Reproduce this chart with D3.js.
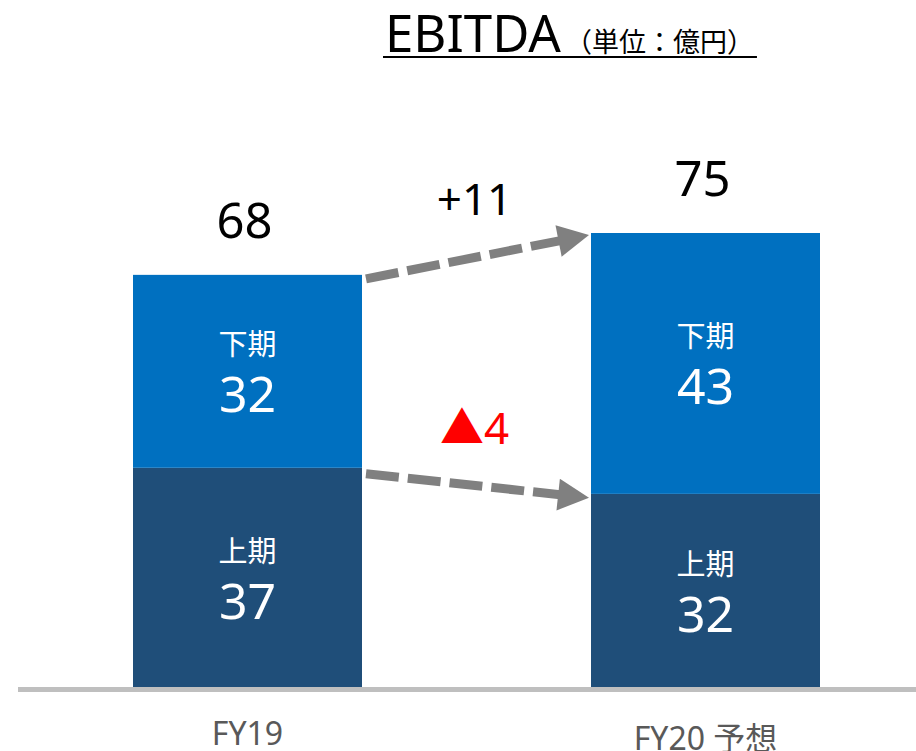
<!DOCTYPE html>
<html>
<head>
<meta charset="utf-8">
<script src="https://cdn.jsdelivr.net/npm/d3@7"></script>
<style>
  body { margin: 0; background: #fff; }
  svg { display: block; font-family: 'Noto Sans', 'Noto Sans CJK JP', sans-serif; }
</style>
</head>
<body>
<div id="chart"></div>
<script>
// data
const categories = ['FY19', 'FY20 予想'];
const firstHalf = [36.3, 32.0];   // 上期
const secondHalf = [31.8, 43.0];  // 下期
const segmentNames = ['上期', '下期'];
const firstHalfLabels = ['37', '32'];
const secondHalfLabels = ['32', '43'];
const totalLabels = ['68', '75'];
const deltaLabels = ['+11', '▲4'];  // top arrow, bottom arrow

const outerWidth = 916;
const outerHeight = 751;
const baseY = 688;

const svg = d3.select('#chart')
  .append('svg')
  .attr('width', outerWidth)
  .attr('height', outerHeight);

// Scales
const x = d3.scaleBand()
  .domain(categories)
  .range([133, 820])
  .paddingInner(0.5)
  .paddingOuter(0);

const y = d3.scaleLinear()
  .domain([0, 75])
  .range([baseY, 233]);

const rows = categories.map((c, i) => ({
  cat: c,
  lo: firstHalf[i],
  hi: secondHalf[i],
  total: firstHalf[i] + secondHalf[i],
  loLabel: firstHalfLabels[i],
  hiLabel: secondHalfLabels[i],
  totalLabel: totalLabels[i]
}));

// Bars
const bars = svg.append('g');
bars.selectAll('rect.lo')
  .data(rows)
  .join('rect')
  .attr('class', 'lo')
  .attr('x', d => x(d.cat))
  .attr('width', x.bandwidth())
  .attr('y', d => y(d.lo))
  .attr('height', d => y(0) - y(d.lo))
  .attr('fill', '#1f4e79');

bars.selectAll('rect.hi')
  .data(rows)
  .join('rect')
  .attr('class', 'hi')
  .attr('x', d => x(d.cat))
  .attr('width', x.bandwidth())
  .attr('y', d => y(d.total))
  .attr('height', d => y(d.lo) - y(d.total))
  .attr('fill', '#0070c0');

// segment labels (name + value, centred in the segment)
const segLabel = (sel, mid, name, val) => {
  sel.append('text')
    .attr('x', d => x(d.cat) + x.bandwidth() / 2)
    .attr('y', d => mid(d) - 16)
    .attr('text-anchor', 'middle')
    .attr('fill', '#fff')
    .style('font-family', "'Noto Sans CJK JP', sans-serif")
    .style('font-size', '29px')
    .text(name);
  sel.append('text')
    .attr('x', d => x(d.cat) + x.bandwidth() / 2)
    .attr('y', d => mid(d) + 41)
    .attr('text-anchor', 'middle')
    .attr('fill', '#fff')
    .style('font-size', '50px')
    .text(val);
};

const labelG = svg.append('g').selectAll('g')
  .data(rows)
  .join('g');
segLabel(labelG, d => (y(0) + y(d.lo)) / 2, segmentNames[0], d => d.loLabel);
segLabel(labelG, d => (y(d.lo) + y(d.total)) / 2, segmentNames[1], d => d.hiLabel);

// totals
svg.append('g').selectAll('text')
  .data(rows)
  .join('text')
  .attr('x', d => x(d.cat) + x.bandwidth() / 2 - 3)
  .attr('y', d => y(d.total) - 37)
  .attr('text-anchor', 'middle')
  .attr('fill', '#000')
  .style('font-size', '49px')
  .text(d => d.totalLabel);

// Axis
const gx = svg.append('g')
  .attr('transform', `translate(0, ${baseY + 1.5})`)
  .call(d3.axisBottom(x).tickSize(0).tickPadding(0));
gx.select('.domain')
  .attr('d', 'M18,0H916')
  .attr('stroke', '#bfbfbf')
  .attr('stroke-width', 5);
gx.selectAll('.tick text')
  .attr('fill', '#595959')
  .attr('dy', null)
  .attr('y', d => /[^\x00-\x7f]/.test(d) ? 60 : 55)
  .style('font-family', "'Noto Sans', 'Noto Sans CJK JP', sans-serif")
  .style('font-size', '32px');

// dashed arrows between the bars
const x0 = x(categories[0]) + x.bandwidth() + 4;
const x1 = x(categories[1]) - 2;
const arrows = [
  { from: y(rows[0].total) + 4, to: y(rows[1].total) + 2, label: deltaLabels[0], color: '#000' },
  { from: y(rows[0].lo) + 6, to: y(rows[1].lo) + 4, label: deltaLabels[1], color: '#ff0000' }
];

const arrowG = svg.append('g');
arrows.forEach(a => {
  const dx = x1 - x0;
  const dy = a.to - a.from;
  const len = Math.hypot(dx, dy);
  const ux = dx / len, uy = dy / len;
  const head = 31, half = 16;
  const bx = x1 - ux * head, by = a.to - uy * head;

  arrowG.append('line')
    .attr('x1', x0).attr('y1', a.from)
    .attr('x2', bx + ux * 2).attr('y2', by + uy * 2)
    .attr('stroke', '#808080')
    .attr('stroke-width', 9)
    .attr('stroke-dasharray', '33,9');

  arrowG.append('path')
    .attr('d', `M${x1},${a.to}L${bx - uy * half},${by + ux * half}L${bx + uy * half},${by - ux * half}Z`)
    .attr('fill', '#808080');

  arrowG.append('text')
    .attr('x', (x0 + x1) / 2 - 3)
    .attr('y', (a.from + a.to) / 2 - 42)
    .attr('text-anchor', 'middle')
    .attr('fill', a.color)
    .style('font-family', "'Noto Sans', 'Noto Sans CJK JP', sans-serif")
    .style('font-size', '44px')
    .text(a.label);
});

// Title with underline
const title = svg.append('text')
  .attr('x', 385)
  .attr('y', 52)
  .attr('fill', '#000');
title.append('tspan')
  .style('font-size', '51px')
  .text('EBITDA');
title.append('tspan')
  .attr('dx', 4)
  .style('font-family', "'Noto Sans CJK JP', sans-serif")
  .style('font-size', '27px')
  .text('（単位：億円）');

const tb = title.node().getBBox();
svg.append('line')
  .attr('x1', tb.x - 2)
  .attr('x2', tb.x + tb.width + 3)
  .attr('y1', 57)
  .attr('y2', 57)
  .attr('stroke', '#000')
  .attr('stroke-width', 2);
</script>
</body>
</html>
